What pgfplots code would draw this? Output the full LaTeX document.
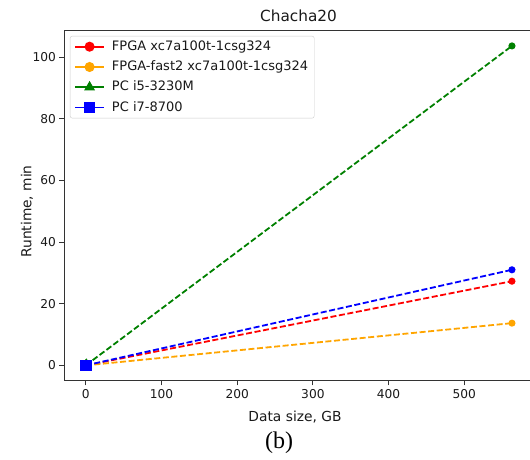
\documentclass[border=0pt]{standalone}
\usepackage{pgfplots}
\pgfplotsset{compat=1.18}
\usepackage{fontspec}
\setmainfont{DejaVu Sans}
\newfontfamily\capfont{Liberation Serif}

\definecolor{spine}{gray}{0.2}
\definecolor{txt}{gray}{0.1}
\definecolor{mplred}{HTML}{FF0000}
\definecolor{mplorange}{HTML}{FFA500}
\definecolor{mplgreen}{HTML}{008000}
\definecolor{mplblue}{HTML}{0000FF}

\begin{document}
\begin{tikzpicture}[x=1pt,y=1pt]
% page frame: the figure is trimmed on its right side
\useasboundingbox (-64.5,-79.5) rectangle (465.5,380.5);
\begin{axis}[
  at={(0,0)}, anchor=south west,
  scale only axis, width=468.8pt, height=350pt,
  xmin=-28.15, xmax=591.2,
  ymin=-4.9, ymax=108.6,
  xtick={0,100,...,500}, ytick={0,20,...,100},
  tick pos=left, tick align=outside,
  major tick length=5pt,
  axis line style={spine, line width=0.9pt},
  every tick/.style={spine, line width=0.9pt},
  /pgf/number format/assume math mode=true,
  tick label style={font=\fontsize{12.2}{14}\selectfont, text=txt},
  legend cell align=left,
  legend style={
    at={(rel axis cs:0.0117,0.9843)}, anchor=north west,
    draw=black!20, rounded corners=2pt, fill=white,
    font=\fontsize{13}{15}\selectfont, text=txt,
    inner xsep=4pt, inner ysep=4pt,
    row sep=7.3pt,
    nodes={inner ysep=0pt, text height=10pt, text depth=3pt},
    /tikz/every odd column/.append style={column sep=5pt},
  },
  legend image code/.code={
    \draw[#1, mark repeat=2, mark phase=2]
      plot coordinates {(0pt,0pt) (14.5pt,0pt) (29pt,0pt)};
  },
]
% measured runs (solid) and extrapolation to the full data set (dashed)
\addplot[mplred, line width=1.8pt, mark=*, mark size=4.1pt,
  mark options={solid, fill=mplred}]
  coordinates {(0,0) (0.5,0.024) (1,0.049)};
\addlegendentry{FPGA xc7a100t-1csg324}
\addplot[mplred, line width=1.8pt, dash pattern=on 6pt off 2.6pt,
  mark=*, mark size=2.6pt, mark indices={2}, mark options={solid, fill=mplred},
  forget plot]
  coordinates {(0,0) (563,27.3)};

\addplot[mplorange, line width=1.8pt, mark=*, mark size=4.1pt,
  mark options={solid, fill=mplorange}]
  coordinates {(0,0) (0.5,0.012) (1,0.024)};
\addlegendentry{FPGA-fast2 xc7a100t-1csg324}
\addplot[mplorange, line width=1.8pt, dash pattern=on 6pt off 2.6pt,
  mark=*, mark size=2.6pt, mark indices={2}, mark options={solid, fill=mplorange},
  forget plot]
  coordinates {(0,0) (563,13.7)};

\addplot[mplgreen, line width=1.8pt, mark=triangle*, mark size=4.6pt,
  mark options={solid, fill=mplgreen}]
  coordinates {(0,0) (0.5,0.092) (1,0.184)};
\addlegendentry{PC i5-3230M}
\addplot[mplgreen, line width=1.8pt, dash pattern=on 6pt off 2.6pt,
  mark=*, mark size=2.6pt, mark indices={2}, mark options={solid, fill=mplgreen},
  forget plot]
  coordinates {(0,0) (563,103.6)};

\addplot[mplblue, line width=1.8pt, mark=square*, mark size=4.6pt,
  mark options={solid, fill=mplblue}]
  coordinates {(0,0) (0.5,0.028) (1,0.055)};
\addlegendentry{PC i7-8700}
\addplot[mplblue, line width=1.8pt, dash pattern=on 6pt off 2.6pt,
  mark=*, mark size=2.6pt, mark indices={2}, mark options={solid, fill=mplblue},
  forget plot]
  coordinates {(0,0) (563,31.0)};
\end{axis}
% title, axis labels and panel caption
\node[anchor=base, text=txt, font=\fontsize{15.3}{18}\selectfont] at (234,358.8) {Chacha20};
\node[anchor=base, text=txt, font=\fontsize{13.8}{16}\selectfont] at (230.5,-41.2) {Data size, GB};
\node[anchor=base, rotate=90, text=txt, font=\fontsize{13.8}{16}\selectfont] at (-33,169) {Runtime, min};
\node[anchor=base, font=\capfont\fontsize{24}{28}\selectfont] at (214.5,-67.8) {(b)};
\end{tikzpicture}
\end{document}
